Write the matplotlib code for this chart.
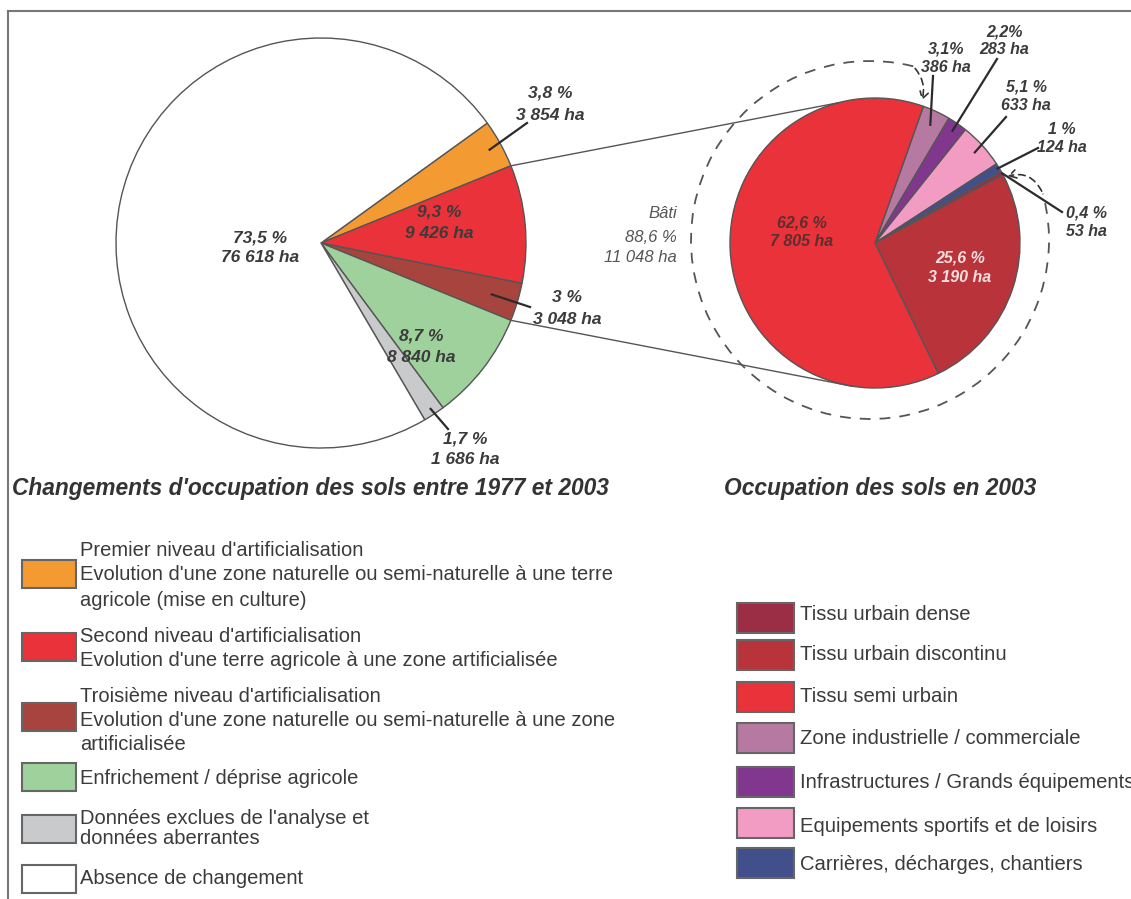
import numpy as np
import matplotlib.pyplot as plt
from matplotlib.patches import Arc, Rectangle, FancyArrowPatch

plt.rcParams['font.family'] = ['Liberation Sans', 'DejaVu Sans']

W, H = 1131, 899

# Changements 1977-2003 (camembert de gauche), dans l'ordre horaire depuis l'orange
chg_names = ["Premier niveau d'artificialisation\nEvolution d'une zone naturelle ou semi-naturelle à une terre\nagricole (mise en culture)",
             "Second niveau d'artificialisation\nEvolution d'une terre agricole à une zone artificialisée",
             "Troisième niveau d'artificialisation\nEvolution d'une zone naturelle ou semi-naturelle à une zone\nartificialisée",
             "Enfrichement / déprise agricole",
             "Données exclues de l'analyse et\ndonnées aberrantes",
             "Absence de changement"]
chg_pct = [3.8, 9.3, 3.0, 8.7, 1.7, 73.5]
chg_pct_txt = ["3,8 %", "9,3 %", "3 %", "8,7 %", "1,7 %", "73,5 %"]
chg_ha_txt = ["3 854 ha", "9 426 ha", "3 048 ha", "8 840 ha", "1 686 ha", "76 618 ha"]
chg_colors = ["#f39a33", "#e9323a", "#a8443e", "#9fd19c", "#c9cacc", "#ffffff"]

# Occupation des sols 2003 (camembert de droite)
occ_names = ["Tissu urbain dense", "Tissu urbain discontinu", "Tissu semi urbain",
             "Zone industrielle / commerciale", "Infrastructures / Grands équipements",
             "Equipements sportifs et de loisirs", "Carrières, décharges, chantiers"]
occ_pct = [0.4, 25.6, 62.6, 3.1, 2.2, 5.1, 1.0]
occ_pct_txt = ["0,4 %", "25,6 %", "62,6 %", "3,1%", "2,2%", "5,1 %", "1 %"]
occ_ha_txt = ["53 ha", "3 190 ha", "7 805 ha", "386 ha", "283 ha", "633 ha", "124 ha"]
occ_colors = ["#9b2d45", "#b8343a", "#e9323a", "#b67aa2", "#82378f", "#f29cc4", "#41508a"]
occ_pie_order = [3, 4, 5, 6, 0, 1, 2]   # ordre horaire dans le camembert
bati_txt = ["Bâti", "88,6 %", "11 048 ha"]


def Y(y):
    return H - y


fig = plt.figure(figsize=(W / 100, H / 100), dpi=100)
ax = fig.add_axes([0, 0, 1, 1])

cl, rl = (321, Y(243)), 205
cr, rr = (875, Y(243)), 145
edge = dict(edgecolor="#555555", linewidth=1)

wl, _ = ax.pie(chg_pct, colors=chg_colors, startangle=35.8, counterclock=False,
               center=cl, radius=rl, wedgeprops=edge)
wr, _ = ax.pie([occ_pct[i] for i in occ_pie_order],
               colors=[occ_colors[i] for i in occ_pie_order],
               startangle=70.5, counterclock=False, center=cr, radius=rr, wedgeprops=edge)
ax.set_xlim(0, W)
ax.set_ylim(0, H)
ax.set_aspect("auto")
ax.axis("off")


def on_pie(c, r, ang, f=1.0):
    a = np.radians(ang)
    return c[0] + f * r * np.cos(a), c[1] + f * r * np.sin(a)


def mid(w):
    return (w.theta1 + w.theta2) / 2


txt = "#3b3b3b"
lab = dict(fontsize=12.5, fontweight="bold", fontstyle="italic", color=txt, va="center")

# etiquettes gauche: x, y ligne1, y ligne2, (f, fin du trait)
left_pos = [(550, 93, 115, (0.94, (527, 123))),
            (439, 212, 233, None),
            (567, 298, 319, (0.87, (530, 307))),
            (421, 336, 357, None),
            (465, 439, 459, (0.97, (448, 429))),
            (260, 238, 258, None)]
for i, (x, y1, y2, lead) in enumerate(left_pos):
    ax.text(x, Y(y1), chg_pct_txt[i], ha="center", **lab)
    ax.text(x, Y(y2), chg_ha_txt[i], ha="center", **lab)
    if lead:
        p0 = on_pie(cl, rl, mid(wl[i]), lead[0])
        ax.plot([p0[0], lead[1][0]], [p0[1], Y(lead[1][1])], color="#2b2b2b", lw=1.6)

# etiquettes droite
labr = dict(lab, fontsize=11.5)
right_pos = [(1066, 213, 232, "left", txt, (1.0, (1062, 212))),
             (960, 258, 277, "center", "#f7dede", None),
             (802, 223, 241, "center", "#5c2e2e", None),
             (946, 49, 67, "center", txt, (0.9, (933, 76))),
             (1004, 32, 50, "center", txt, (0.94, (997, 59))),
             (1026, 87, 106, "center", txt, (0.93, (1006, 117))),
             (1062, 129, 148, "center", txt, (0.99, (1038, 148)))]
for i, (x, y1, y2, ha, col, lead) in enumerate(right_pos):
    ax.text(x, Y(y1), occ_pct_txt[i], ha=ha, **dict(labr, color=col))
    ax.text(x, Y(y2), occ_ha_txt[i], ha=ha, **dict(labr, color=col))
    if lead:
        w = wr[occ_pie_order.index(i)]
        p0 = on_pie(cr, rr, mid(w), lead[0])
        ax.plot([p0[0], lead[1][0]], [p0[1], Y(lead[1][1])], color="#2b2b2b", lw=1.6)

# traits de liaison entre les deux camemberts
for a_left, a_right in [(wl[0].theta1, 105), (wl[2].theta1, 261)]:
    p0 = on_pie(cl, rl, a_left)
    p1 = on_pie(cr, rr, a_right)
    ax.plot([p0[0], p1[0]], [p0[1], p1[1]], color="#555555", lw=1)

# cercle pointille du bati
dc, dr = (870, Y(240)), 179
ax.add_patch(Arc(dc, 2 * dr, 2 * dr, theta1=76, theta2=375, color="#555555",
                 lw=1.3, linestyle=(0, (6, 5))))
for a0, tip, rad in [(76, (921, 103), -0.3), (15, (1005, 177), 0.45)]:
    p0 = on_pie(dc, dr, a0)
    ax.add_patch(FancyArrowPatch(p0, (tip[0], Y(tip[1])), connectionstyle=f"arc3,rad={rad}",
                                 arrowstyle="->,head_length=5,head_width=3", color="#333333",
                                 lw=1.2, linestyle=(0, (4, 3))))
for i, s in enumerate(bati_txt):
    ax.text(677, Y([213, 237, 258][i]), s, ha="right", va="center", fontsize=12,
            fontstyle="italic", color="#555555")

# titres
ttl = dict(fontsize=16.4, fontweight="bold", fontstyle="italic", color="#333333", va="center")
ax.text(12, Y(489), "Changements d'occupation des sols entre 1977 et 2003", ha="left", **ttl)
ax.text(880, Y(489), "Occupation des sols en 2003", ha="center", **ttl)

# cadre
ax.plot([8, W], [Y(10.5), Y(10.5)], color="#777777", lw=1.5)
ax.plot([8, 8], [Y(10.5), 0], color="#777777", lw=1.5)

# legende gauche
left_tops = [560, 633, 703, 763, 815, 865]
left_lines = [[551, 575, 600], [636, 660], [696, 721, 745], [779], [819, 838], [879]]
for i, name in enumerate(chg_names):
    ax.add_patch(Rectangle((22, Y(left_tops[i] + 28)), 54, 28, facecolor=chg_colors[i],
                           edgecolor="#666666", lw=1.5))
    for s, yy in zip(name.split("\n"), left_lines[i]):
        ax.text(80, Y(yy), s, ha="left", va="center", fontsize=14.5, color=txt)

# legende droite (le dernier mot est coupe au bord comme dans l'original)
right_tops = [603, 640, 682, 723, 767, 808, 848]
right_text_y = [615, 655, 697, 739, 783, 826, 864]
for i, name in enumerate(occ_names):
    ax.add_patch(Rectangle((737, Y(right_tops[i] + 30)), 57, 30, facecolor=occ_colors[i],
                           edgecolor="#666666", lw=1.5))
    ax.text(800, Y(right_text_y[i]), name, ha="left", va="center", fontsize=14.6, color=txt)

fig.savefig("out.png", dpi=100)
